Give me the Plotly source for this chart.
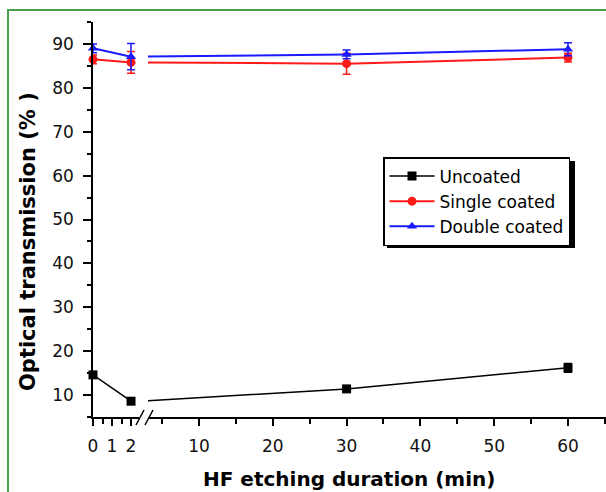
import plotly.graph_objects as go

# ---- data ----
durations = [0, 2, 30, 60]
uncoated = [14.6, 8.6, 11.4, 16.2]
uncoated_err = [0.5, 0.5, 0.4, 1.0]
single = [86.5, 85.8, 85.5, 86.9]
single_err = [1.0, 2.5, 2.4, 1.0]
double = [89.0, 87.1, 87.6, 88.8]
double_err = [1.0, 3.0, 1.0, 1.5]

series = [
    ("Uncoated", uncoated, uncoated_err, "black", "square", 1.5),
    ("Single coated", single, single_err, "#ff1a1a", "circle", 2),
    ("Double coated", double, double_err, "#1a1aff", "triangle-up", 2),
]

W, H = 606, 492
ML, MR, MT, MB = 93, 0, 22, 75
PW, PH = W - ML - MR, H - MT - MB

def px_x(p):
    return (p - ML) / PW

def px_y(p):
    return (H - MB - p) / PH

fig = go.Figure()
for name, ys, err, col, sym, lw in series:
    # left (broken) segment: 0..2
    fig.add_trace(go.Scatter(
        x=durations[:2], y=ys[:2], xaxis="x", yaxis="y",
        mode="lines+markers", name=name, showlegend=False,
        line=dict(color=col, width=lw),
        marker=dict(symbol=sym, size=9, color=col),
        error_y=dict(type="data", array=err[:2], color=col, thickness=1.5, width=4),
        cliponaxis=False,
    ))
    # right segment: continues from 2
    fig.add_trace(go.Scatter(
        x=durations[1:], y=ys[1:], xaxis="x2", yaxis="y",
        mode="lines+markers", name=name, showlegend=True,
        line=dict(color=col, width=lw),
        marker=dict(symbol=sym, size=9, color=col),
        error_y=dict(type="data", array=err[1:], color=col, thickness=1.5, width=4),
        cliponaxis=True,
    ))

tickfont = dict(family="DejaVu Sans", size=17, color="#111")
common_x = dict(
    showline=True, linecolor="black", linewidth=1.5, showgrid=False, zeroline=False,
    ticks="outside", ticklen=7, tickwidth=1.5, tickcolor="black", tickfont=tickfont,
    ticklabelstandoff=6,
)

fig.update_layout(
    width=W, height=H,
    margin=dict(l=ML, r=MR, t=MT, b=MB),
    paper_bgcolor="white", plot_bgcolor="white",
    font=dict(family="DejaVu Sans", color="black"),
    xaxis=dict(domain=[0, px_x(139)], range=[0, 2.42], anchor="y",
               tickmode="array", tickvals=[0, 1, 2],
               minor=dict(tickvals=[0.5, 1.5], ticks="outside", ticklen=5,
                          tickwidth=1.5, tickcolor="black"),
               **common_x),
    xaxis2=dict(domain=[px_x(148), 1], range=[3.09, 65.15], anchor="y",
                tickmode="array", tickvals=[10, 20, 30, 40, 50, 60],
                minor=dict(tickvals=[5, 15, 25, 35, 45, 55, 65], ticks="outside",
                           ticklen=5, tickwidth=1.5, tickcolor="black"),
                **common_x),
    yaxis=dict(range=[5, 95], showline=True, linecolor="black", linewidth=1.5,
               showgrid=False, zeroline=False, ticks="outside", ticklen=8,
               tickwidth=1.5, tickcolor="black", tickfont=tickfont,
               tickmode="array", tickvals=[10, 20, 30, 40, 50, 60, 70, 80, 90],
               minor=dict(tickvals=[5, 15, 25, 35, 45, 55, 65, 75, 85, 95],
                          ticks="outside", ticklen=4, tickwidth=1.5, tickcolor="black"),
               ticklabelstandoff=6),
    legend=dict(x=px_x(383), y=px_y(157), xanchor="left", yanchor="top",
                bgcolor="white", bordercolor="black", borderwidth=1.5,
                font=dict(family="DejaVu Sans", size=17, color="black"),
                itemwidth=45, tracegroupgap=0),
)

# axis titles
fig.add_annotation(text="<b>HF etching duration (min)</b>", xref="paper", yref="paper",
                   x=px_x(349), y=px_y(479), xanchor="center", yanchor="middle",
                   showarrow=False,
                   font=dict(family="DejaVu Sans", size=20, color="black"))
fig.add_annotation(text="<b>Optical transmission (% )</b>", xref="paper", yref="paper",
                   x=px_x(28), y=px_y(242), xanchor="center", yanchor="middle",
                   showarrow=False, textangle=-90,
                   font=dict(family="DejaVu Sans", size=21, color="black"))

# green frame around the figure
fig.add_shape(type="rect", xref="paper", yref="paper",
              x0=px_x(8), x1=px_x(640), y0=px_y(540), y1=px_y(10),
              line=dict(color="#4c9f4c", width=2), layer="below")
# legend shadow (legend box is drawn on top of it)
fig.add_shape(type="rect", xref="paper", yref="paper",
              x0=px_x(387), x1=px_x(575), y0=px_y(248), y1=px_y(161),
              line=dict(width=0), fillcolor="black", layer="above")
# axis break marks
for x0 in (136, 145):
    fig.add_shape(type="line", xref="paper", yref="paper",
                  x0=px_x(x0), x1=px_x(x0 + 8), y0=px_y(425), y1=px_y(410),
                  line=dict(color="black", width=1.5))

fig.write_html("out.html")
